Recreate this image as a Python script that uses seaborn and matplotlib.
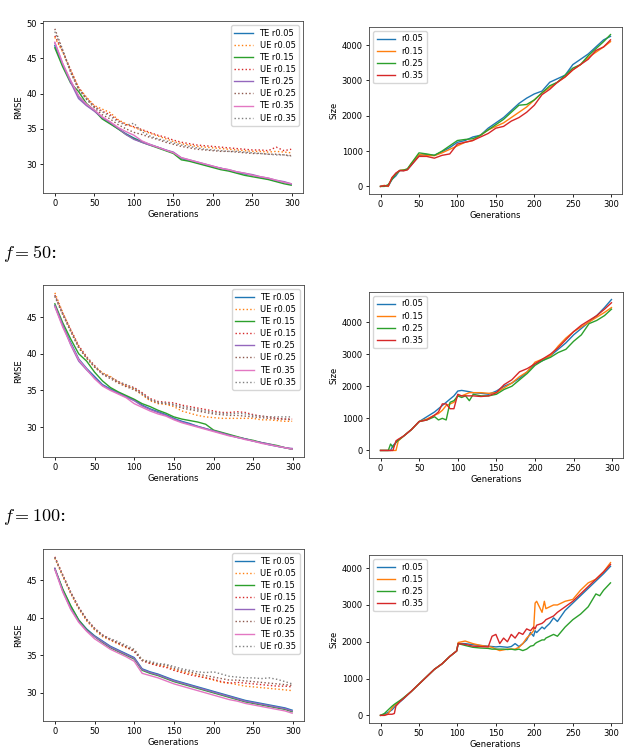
import matplotlib
matplotlib.use("Agg")
import matplotlib.pyplot as plt
import seaborn as sns

# Generations sampled for the RMSE curves
GEN = [0, 10, 20, 30, 40, 50, 60, 70, 80, 90, 100, 110, 120, 130, 140, 150,
       160, 170, 180, 190, 200, 210, 220, 230, 240, 250, 260, 270, 280, 290, 299]

RATES = ["r0.05", "r0.15", "r0.25", "r0.35"]

# ---- top row: RMSE ----
te1_05 = [46.8, 44.0, 41.8, 39.6, 38.4, 37.6, 36.5, 35.8, 35.0, 34.3, 33.7, 33.2, 32.8, 32.4, 32.0, 31.6,
          30.8, 30.5, 30.2, 29.9, 29.6, 29.4, 29.1, 28.8, 28.6, 28.4, 28.1, 27.9, 27.6, 27.4, 27.1]
te1_15 = [46.5, 43.8, 41.5, 40.3, 38.6, 37.6, 36.4, 35.7, 35.0, 34.2, 33.6, 33.1, 32.7, 32.3, 31.9, 31.5,
          30.6, 30.4, 30.1, 29.8, 29.5, 29.2, 29.0, 28.7, 28.4, 28.2, 28.0, 27.8, 27.5, 27.2, 27.0]
te1_25 = [47.2, 44.2, 41.6, 39.3, 38.3, 37.5, 36.6, 35.9, 35.1, 34.2, 33.5, 33.1, 32.7, 32.4, 32.0, 31.7,
          30.9, 30.6, 30.3, 30.0, 29.7, 29.4, 29.2, 28.9, 28.7, 28.5, 28.2, 28.0, 27.7, 27.5, 27.2]
te1_35 = [47.3, 44.3, 41.9, 39.7, 38.5, 37.7, 36.7, 36.0, 35.2, 34.6, 34.1, 33.3, 32.8, 32.4, 32.0, 31.6,
          30.9, 30.6, 30.3, 30.0, 29.7, 29.4, 29.2, 28.9, 28.7, 28.4, 28.2, 28.0, 27.7, 27.4, 27.2]
ue1_05 = [48.0, 45.9, 43.3, 40.9, 39.5, 38.3, 37.8, 37.3, 36.3, 35.7, 35.2, 34.8, 34.4, 34.0, 33.6, 33.2,
          32.9, 32.7, 32.5, 32.4, 32.3, 32.2, 32.1, 32.0, 31.9, 31.8, 31.8, 31.7, 31.8, 31.7, 31.6]
ue1_15 = [48.2, 46.0, 43.4, 40.8, 39.4, 38.2, 37.5, 37.0, 36.2, 35.6, 35.3, 34.9, 34.5, 34.1, 33.8, 33.4,
          33.1, 32.9, 32.7, 32.6, 32.5, 32.4, 32.3, 32.2, 32.1, 32.0, 32.0, 31.9, 32.4, 31.9, 32.1]
ue1_25 = [49.2, 46.2, 43.0, 40.6, 39.2, 38.0, 37.0, 36.4, 35.6, 35.0, 34.5, 34.2, 33.8, 33.5, 33.1, 32.8,
          32.5, 32.3, 32.1, 32.0, 31.9, 31.8, 31.8, 31.7, 31.6, 31.5, 31.5, 31.4, 31.4, 31.3, 31.2]
ue1_35 = [48.8, 46.1, 43.1, 40.7, 39.3, 38.1, 37.4, 36.8, 36.0, 35.5, 35.8, 34.6, 34.0, 33.6, 33.3, 33.0,
          32.7, 32.5, 32.3, 32.1, 32.0, 31.9, 31.8, 31.8, 31.7, 31.6, 31.5, 31.4, 31.3, 31.3, 31.1]

# ---- f = 50: RMSE ----
te2_05 = [46.5, 43.8, 41.5, 39.3, 38.0, 36.9, 35.8, 35.2, 34.7, 34.2, 33.7, 33.0, 32.5, 32.1, 31.7, 31.2,
          30.8, 30.5, 30.1, 29.8, 29.5, 29.2, 28.9, 28.6, 28.4, 28.1, 27.9, 27.6, 27.4, 27.2, 27.0]
te2_15 = [46.8, 44.2, 42.0, 40.0, 39.0, 37.5, 36.3, 35.4, 34.8, 34.3, 33.8, 33.2, 32.8, 32.3, 31.9, 31.4,
          31.1, 30.9, 30.7, 30.4, 29.6, 29.3, 29.0, 28.7, 28.4, 28.2, 27.9, 27.7, 27.5, 27.2, 27.0]
te2_25 = [46.6, 43.9, 41.2, 39.0, 37.8, 36.7, 35.7, 35.1, 34.6, 34.1, 33.6, 32.9, 32.4, 32.0, 31.6, 31.1,
          30.7, 30.4, 30.1, 29.8, 29.5, 29.2, 28.9, 28.6, 28.4, 28.1, 27.9, 27.7, 27.4, 27.2, 27.1]
te2_35 = [46.4, 43.6, 41.3, 39.2, 37.9, 36.6, 35.6, 35.0, 34.5, 34.0, 33.2, 32.7, 32.2, 31.8, 31.5, 31.0,
          30.6, 30.3, 30.0, 29.7, 29.4, 29.1, 28.8, 28.6, 28.3, 28.1, 27.8, 27.6, 27.4, 27.2, 27.0]
ue2_05 = [48.3, 45.6, 43.2, 41.0, 39.4, 38.2, 37.4, 36.9, 36.1, 35.6, 35.2, 34.4, 33.6, 33.2, 33.1, 32.8,
          32.2, 31.9, 31.6, 31.4, 31.3, 31.2, 31.2, 31.2, 31.2, 31.2, 31.0, 31.0, 30.9, 30.8, 30.8]
ue2_15 = [48.0, 45.5, 43.3, 41.1, 39.6, 38.4, 37.3, 36.8, 36.2, 35.7, 35.4, 34.7, 33.9, 33.5, 33.4, 33.3,
          33.0, 32.8, 32.6, 32.4, 32.2, 32.0, 32.0, 32.1, 32.0, 31.7, 31.5, 31.4, 31.2, 31.1, 31.1]
ue2_25 = [47.8, 45.3, 43.0, 40.8, 39.4, 38.2, 37.2, 36.6, 36.0, 35.5, 35.1, 34.5, 33.7, 33.3, 33.2, 33.0,
          32.6, 32.4, 32.2, 32.0, 31.8, 31.7, 31.6, 31.6, 31.5, 31.4, 31.3, 31.2, 31.1, 31.1, 31.0]
ue2_35 = [47.9, 45.4, 43.1, 40.9, 39.5, 38.3, 37.3, 36.8, 36.2, 35.8, 35.3, 34.6, 33.8, 33.4, 33.3, 33.1,
          32.8, 32.6, 32.4, 32.2, 32.0, 31.9, 31.8, 31.9, 31.8, 31.6, 31.5, 31.4, 31.4, 31.4, 31.4]

# ---- f = 100: RMSE ----
te3_05 = [46.5, 43.7, 41.5, 39.7, 38.5, 37.6, 36.9, 36.2, 35.7, 35.2, 34.7, 33.2, 32.8, 32.5, 32.1, 31.7,
          31.4, 31.1, 30.8, 30.5, 30.2, 29.9, 29.6, 29.3, 29.0, 28.8, 28.6, 28.4, 28.2, 28.0, 27.7]
te3_15 = [46.5, 43.8, 41.6, 39.7, 38.4, 37.5, 36.7, 36.0, 35.5, 35.0, 34.5, 33.0, 32.6, 32.3, 31.9, 31.5,
          31.2, 30.9, 30.6, 30.3, 30.0, 29.7, 29.4, 29.1, 28.8, 28.6, 28.4, 28.2, 28.0, 27.8, 27.5]
te3_25 = [46.6, 43.5, 41.2, 39.5, 38.3, 37.5, 36.8, 36.1, 35.6, 35.1, 34.6, 33.1, 32.7, 32.4, 32.0, 31.6,
          31.3, 31.0, 30.7, 30.4, 30.1, 29.8, 29.5, 29.2, 28.9, 28.7, 28.5, 28.3, 28.1, 27.9, 27.6]
te3_35 = [46.4, 43.4, 41.1, 39.4, 38.2, 37.2, 36.5, 35.8, 35.3, 34.8, 34.2, 32.6, 32.3, 32.0, 31.6, 31.2,
          30.9, 30.6, 30.3, 30.0, 29.7, 29.4, 29.1, 28.9, 28.6, 28.4, 28.2, 28.0, 27.8, 27.6, 27.3]
ue3_05 = [47.9, 45.5, 43.2, 41.2, 39.6, 38.4, 37.5, 37.0, 36.5, 36.0, 35.7, 34.4, 34.0, 33.7, 33.5, 33.1,
          32.8, 32.6, 32.3, 32.0, 31.7, 31.4, 31.3, 31.1, 30.9, 30.8, 30.7, 30.6, 30.5, 30.4, 30.3]
ue3_15 = [48.1, 45.7, 43.4, 41.4, 39.8, 38.6, 37.7, 37.1, 36.6, 36.1, 35.5, 34.3, 33.9, 33.6, 33.4, 33.0,
          32.7, 32.4, 32.2, 32.0, 31.8, 31.5, 31.3, 31.4, 31.3, 31.2, 31.1, 31.0, 30.9, 30.9, 30.8]
ue3_25 = [48.0, 45.6, 43.3, 41.3, 39.7, 38.5, 37.6, 37.1, 36.6, 36.1, 35.6, 34.3, 34.0, 33.8, 33.7, 33.3,
          33.0, 32.8, 32.5, 32.3, 32.1, 31.9, 31.7, 31.7, 31.6, 31.5, 31.4, 31.3, 31.2, 31.1, 31.0]
ue3_35 = [48.0, 45.6, 43.4, 41.4, 39.8, 38.6, 37.7, 37.2, 36.8, 36.3, 35.8, 34.4, 34.2, 33.9, 33.8, 33.5,
          33.2, 33.0, 32.8, 32.7, 32.8, 32.5, 32.2, 32.1, 32.0, 32.0, 31.9, 32.0, 31.8, 31.5, 31.2]

# ---- top row: size ----
S1_GEN = [0, 5, 10, 15, 20, 25, 30, 35, 40, 50, 60, 70, 80, 90, 100, 110, 120, 130, 140, 150,
          160, 170, 180, 190, 200, 210, 220, 230, 240, 250, 260, 270, 280, 290, 299]
s1_05 = [0, 20, 0, 200, 300, 450, 450, 480, 600, 880, 900, 880, 980, 1100, 1250, 1300, 1400, 1450, 1650, 1800,
         1950, 2150, 2350, 2500, 2620, 2700, 2950, 3050, 3150, 3450, 3600, 3750, 3950, 4150, 4250]
s1_15 = [0, 30, 0, 250, 350, 450, 470, 480, 650, 900, 880, 870, 950, 1050, 1150, 1250, 1300, 1450, 1600, 1700,
         1800, 1950, 2100, 2250, 2450, 2650, 2800, 2950, 3100, 3300, 3450, 3650, 3800, 3950, 4100]
s1_25 = [0, 0, 50, 200, 350, 450, 460, 500, 650, 950, 920, 880, 1000, 1150, 1300, 1330, 1350, 1450, 1600, 1750,
         1900, 2100, 2300, 2320, 2450, 2650, 2850, 2950, 3150, 3350, 3450, 3700, 3900, 4100, 4300]
s1_35 = [0, 20, 10, 250, 380, 450, 440, 470, 600, 850, 850, 800, 880, 920, 1200, 1250, 1300, 1400, 1500, 1650,
         1700, 1850, 1950, 2100, 2300, 2600, 2750, 2950, 3100, 3300, 3450, 3600, 3850, 3950, 4150]

# ---- f = 50: size ----
S2_GEN = [0, 10, 13, 16, 20, 23, 30, 40, 50, 60, 70, 75, 80, 85, 90, 95, 100, 105, 110, 115, 120, 130, 140,
          150, 160, 170, 180, 190, 200, 210, 220, 230, 240, 250, 260, 270, 280, 290, 299]
s2_05 = [0, 0, 0, 150, 250, 320, 450, 650, 900, 1050, 1200, 1300, 1400, 1500, 1600, 1700, 1850, 1870, 1850,
         1830, 1800, 1780, 1750, 1850, 2000, 2100, 2250, 2450, 2700, 2800, 2950, 3150, 3350, 3600, 3800, 4000,
         4200, 4450, 4700]
s2_15 = [0, 0, 0, 0, 0, 300, 450, 650, 900, 980, 1100, 1150, 1250, 1400, 1450, 1500, 1700, 1700, 1750,
         1800, 1800, 1800, 1780, 1800, 1950, 2100, 2300, 2450, 2750, 2850, 2950, 3250, 3500, 3700, 3850, 4000,
         4150, 4300, 4450]
s2_25 = [0, 0, 200, 100, 250, 320, 450, 650, 900, 950, 1050, 950, 1000, 950, 1500, 1550, 1700, 1650, 1700,
         1550, 1750, 1700, 1700, 1750, 1900, 2000, 2200, 2400, 2650, 2800, 2900, 3050, 3150, 3400, 3600, 3950,
         4050, 4200, 4400]
s2_35 = [0, 0, 0, 0, 300, 350, 450, 650, 900, 950, 1100, 1200, 1450, 1450, 1300, 1300, 1750, 1700, 1700,
         1700, 1700, 1680, 1700, 1800, 2050, 2200, 2450, 2550, 2700, 2850, 3000, 3200, 3450, 3700, 3900, 4050,
         4200, 4400, 4600]

# ---- f = 100: size ----
S3_GEN = [0, 5, 10, 15, 18, 20, 25, 30, 40, 50, 60, 70, 80, 90, 99, 101, 110, 120, 130, 140, 145, 150, 155,
          160, 165, 170, 175, 180, 185, 190, 195, 199, 201, 203, 210, 213, 215, 220, 225, 230, 240, 250, 260,
          270, 280, 285, 290, 299]
s3_05 = [0, 30, 80, 150, 220, 270, 360, 450, 650, 850, 1050, 1250, 1400, 1600, 1750, 1950, 1950, 1920, 1900,
         1880, 1870, 1860, 1870, 1860, 1850, 1870, 1950, 1870, 1950, 2050, 2250, 2150, 2300, 2250, 2400, 2350,
         2400, 2500, 2650, 2550, 2850, 3050, 3250, 3450, 3650, 3750, 3850, 4050]
s3_15 = [0, 0, 50, 200, 280, 300, 380, 470, 650, 850, 1050, 1250, 1400, 1600, 1750, 1980, 2020, 1950, 1900,
         1870, 1850, 1800, 1760, 1780, 1800, 1800, 1800, 1850, 1950, 2100, 2200, 2300, 3050, 3100, 2800, 3100,
         2900, 2950, 3000, 3000, 3100, 3150, 3400, 3600, 3700, 3800, 3900, 4150]
s3_25 = [0, 50, 150, 250, 300, 330, 400, 480, 650, 850, 1050, 1250, 1400, 1600, 1750, 1950, 1900, 1850, 1830,
         1820, 1800, 1800, 1800, 1800, 1790, 1800, 1780, 1800, 1760, 1800, 1880, 1900, 1950, 1980, 2050, 2050,
         2100, 2150, 2200, 2150, 2400, 2600, 2750, 2950, 3300, 3250, 3400, 3600]
s3_35 = [0, 0, 30, 30, 50, 250, 370, 460, 650, 850, 1050, 1250, 1400, 1600, 1750, 1950, 1930, 1880, 1870,
         1860, 2150, 2200, 1950, 2100, 2000, 2200, 2100, 2250, 2200, 2350, 2300, 2400, 2350, 2450, 2500, 2550,
         2600, 2650, 2700, 2800, 2950, 3100, 3300, 3500, 3700, 3800, 3900, 4100]

rmse_rows = [
    ([te1_05, te1_15, te1_25, te1_35], [ue1_05, ue1_15, ue1_25, ue1_35]),
    ([te2_05, te2_15, te2_25, te2_35], [ue2_05, ue2_15, ue2_25, ue2_35]),
    ([te3_05, te3_15, te3_25, te3_35], [ue3_05, ue3_15, ue3_25, ue3_35]),
]
size_rows = [
    (S1_GEN, [s1_05, s1_15, s1_25, s1_35]),
    (S2_GEN, [s2_05, s2_15, s2_25, s2_35]),
    (S3_GEN, [s3_05, s3_15, s3_25, s3_35]),
]
section_labels = [None, r"$f = 50$:", r"$f = 100$:"]

plt.rcParams["mathtext.fontset"] = "cm"
plt.rcParams["font.size"] = 6
pal = sns.color_palette("tab10")

W, H = 627, 752
fig = plt.figure(figsize=(W / 100, H / 100), dpi=100)


def px_axes(l, t, r, b):
    return fig.add_axes([l / W, 1 - b / H, (r - l) / W, (b - t) / H])


# pixel boxes (left, top, right, bottom) of each panel
left_boxes = [(43, 21, 303, 193), (43, 285, 304, 457), (43, 549, 304, 721)]
right_boxes = [(369, 27, 622, 194), (369, 292, 623, 458), (369, 555, 622, 723)]
label_y = [None, 253, 517]


def style(ax):
    ax.tick_params(labelsize=6, length=2.5, width=0.6, pad=2)
    for sp in ax.spines.values():
        sp.set_linewidth(0.6)
        sp.set_color("#444444")
    ax.set_xticks([0, 50, 100, 150, 200, 250, 300])
    ax.set_xlabel("Generations", fontsize=6, labelpad=1)


for i in range(3):
    te, ue = rmse_rows[i]
    ax = px_axes(*left_boxes[i])
    for k, rate in enumerate(RATES):
        sns.lineplot(x=GEN, y=te[k], ax=ax, color=pal[2 * k], lw=1.0, label="TE " + rate)
        sns.lineplot(x=GEN, y=ue[k], ax=ax, color=pal[2 * k + 1], lw=1.0, linestyle=":", label="UE " + rate)
    style(ax)
    ax.set_ylabel("RMSE", fontsize=6, labelpad=2)
    ax.legend(loc="upper right", fontsize=6, handlelength=2.2, labelspacing=0.38,
              borderpad=0.4, handletextpad=0.8, frameon=True)

    gx, sizes = size_rows[i]
    ax2 = px_axes(*right_boxes[i])
    for k, rate in enumerate(RATES):
        sns.lineplot(x=gx, y=sizes[k], ax=ax2, color=pal[k], lw=1.0, label=rate)
    style(ax2)
    ax2.set_ylabel("Size", fontsize=6, labelpad=2)
    ax2.legend(loc="upper left", fontsize=6, handlelength=2.2, labelspacing=0.38,
               borderpad=0.4, handletextpad=0.8)

    if section_labels[i]:
        fig.text(3 / W, 1 - label_y[i] / H, section_labels[i], fontsize=13, family="serif",
                 va="center", ha="left")

fig.savefig("out.png", dpi=100)
